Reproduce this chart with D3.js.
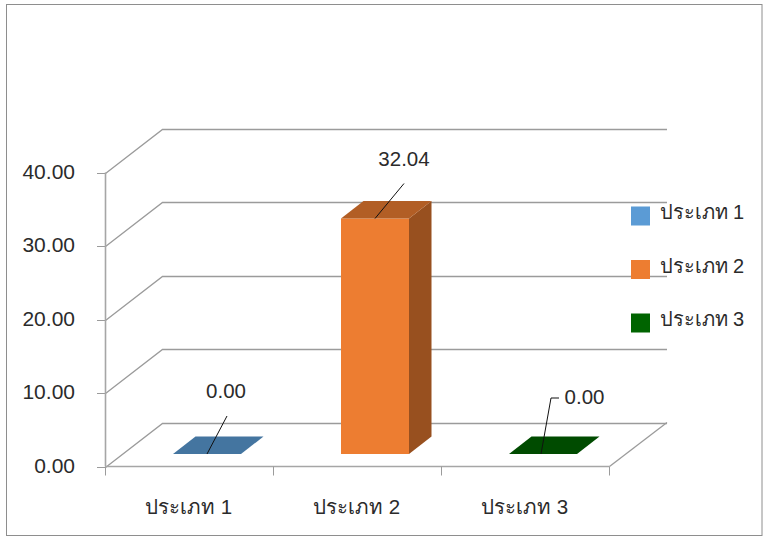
<!DOCTYPE html>
<html><head><meta charset="utf-8">
<script src="https://cdn.jsdelivr.net/npm/d3@7"></script>
<style>html,body{margin:0;padding:0;background:#fff}svg{display:block}text{font-family:"Liberation Sans",Arial,sans-serif;fill:#2b2b2b}</style>
</head><body><svg id="c" width="769" height="543"></svg>
<script>
const categories = ["ประเภท 1","ประเภท 2","ประเภท 3"];
const values = [0, 32.04, 0];
const valueLabels = ["0.00","32.04","0.00"];
const yTicks = [0,10,20,30,40];
const colors = ["#5B9BD5","#ED7D31","#006400"];

const svg = d3.select("#c");
svg.append("rect").attr("x",6.5).attr("y",4.5).attr("width",755.5).attr("height",531).attr("fill","#fff").attr("stroke","#8e8e8e").attr("stroke-width",1);

const y = d3.scaleLinear().domain([0,40]).range([466.5,172.5]);
const x = d3.scaleBand().domain(categories).range([105.5,609.5]);
const depth = {x:57,y:44};
const gridC="#9b9b9b", axisC="#a6a6a6";
const g = svg.append("g");

yTicks.forEach(t=>{
  const yy=Math.round(y(t))+.5;
  g.append("path").attr("d",`M105.5,${yy}L${105.5+depth.x},${yy-depth.y}H${609.5+depth.x+.5}`).attr("fill","none").attr("stroke",gridC).attr("stroke-width",1.3);
  g.append("line").attr("x1",97).attr("x2",105.5).attr("y1",yy).attr("y2",yy).attr("stroke",gridC);
  svg.append("text").attr("x",75).attr("y",yy-2).attr("dy","0.36em").attr("text-anchor","end").attr("font-size",21).text(d3.format(".2f")(t));
});
g.append("line").attr("x1",609.5).attr("y1",y(0)).attr("x2",609.5+depth.x+.5).attr("y2",y(0)-depth.y).attr("stroke",gridC).attr("stroke-width",1.3);
g.append("line").attr("x1",105.5).attr("x2",105.5).attr("y1",y(40)).attr("y2",y(0)).attr("stroke",axisC).attr("stroke-width",1.6);
g.append("line").attr("x1",105.5).attr("x2",609.5).attr("y1",y(0)).attr("y2",y(0)).attr("stroke",axisC).attr("stroke-width",1.6);
categories.forEach((c,i)=>{
  const xx=x(c);
  g.append("line").attr("x1",xx).attr("x2",xx).attr("y1",y(0)).attr("y2",y(0)+9).attr("stroke",gridC);
  svg.append("text").attr("x",xx+x.bandwidth()/2-1).attr("y",514).attr("text-anchor","middle").attr("font-size",20.5).text(c);
});
g.append("line").attr("x1",609.5).attr("x2",609.5).attr("y1",y(0)).attr("y2",y(0)+9).attr("stroke",gridC);

const barW=68, bdx=22.5, bdy=17.5, base=12.5;
categories.forEach((c,i)=>{
  const col=d3.color(colors[i]);
  const xl=x(c)+67.5, xr=xl+barW, yb=y(0)-base, yt=yb-(y(0)-y(values[i]));
  svg.append("path").attr("d",`M${xr},${yb}L${xr+bdx},${yb-bdy}V${yt-bdy}L${xr},${yt}Z`).attr("fill",col.darker(1.25));
  svg.append("rect").attr("x",xl).attr("y",yt).attr("width",barW).attr("height",yb-yt).attr("fill",colors[i]);
  svg.append("path").attr("d",`M${xl},${yt}L${xl+bdx},${yt-bdy}H${xr+bdx}L${xr},${yt}Z`).attr("fill",col.darker(0.8));
});
const leaderPaths=[[[34,0],[54,-38]],[[34,0],[63,-35]],[[32,0],[42,-56],[50,-56]]];
const labelOff=[[53,-63],[63,-60],[75.5,-57.5]];
categories.forEach((c,i)=>{
  const xl=x(c)+67.5, yb=y(0)-base, yt=yb-(y(0)-y(values[i]));
  svg.append("path").attr("d",d3.line()(leaderPaths[i].map(p=>[xl+p[0],yt+p[1]]))).attr("fill","none").attr("stroke","#111").attr("stroke-width",1);
  svg.append("text").attr("x",xl+labelOff[i][0]).attr("y",yt+labelOff[i][1]).attr("dy","0.36em").attr("text-anchor","middle").attr("font-size",20.5).text(valueLabels[i]);
});
const legY=d3.scalePoint().domain(categories).range([216,323]);
categories.forEach((c,i)=>{
  svg.append("rect").attr("x",631).attr("y",legY(c)-9.5).attr("width",19).attr("height",19).attr("fill",colors[i]);
  svg.append("text").attr("x",659.5).attr("y",legY(c)+3).attr("font-size",20).text(c);
});
</script></body></html>
